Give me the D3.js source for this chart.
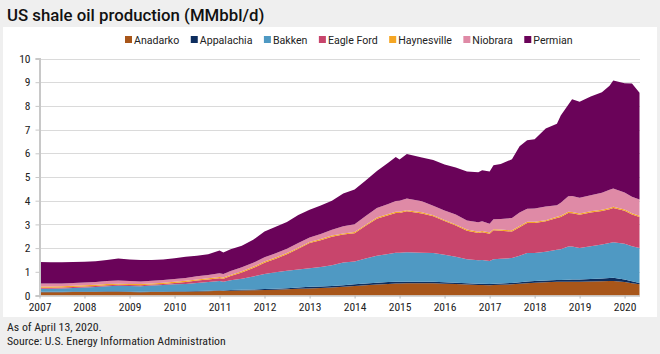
<!DOCTYPE html>
<html>
<head>
<meta charset="utf-8">
<script src="https://cdn.jsdelivr.net/npm/d3@7"></script>
<style>
  body { margin: 0; background: #efefef; }
  svg { display: block; }
  .tick text { font-family: "Liberation Sans Narrow", "Roboto Condensed", "Liberation Sans", sans-serif; font-size: 11.5px; fill: #222; }
</style>
</head>
<body>
<svg id="chart" width="660" height="354"></svg>
<script>
'use strict';

// monthly sample points
const months = [
  "2007-01","2007-04","2007-07","2007-10",
  "2008-01","2008-04","2008-07","2008-10",
  "2009-01","2009-04","2009-07","2009-10",
  "2010-01","2010-04","2010-07","2010-10",
  "2011-01","2011-02","2011-04","2011-07","2011-10",
  "2012-01","2012-04","2012-07","2012-10",
  "2013-01","2013-04","2013-07","2013-10",
  "2014-01","2014-04","2014-07","2014-10","2014-12",
  "2015-01","2015-03","2015-07","2015-10",
  "2016-01","2016-04","2016-07","2016-10","2016-11",
  "2017-01","2017-02","2017-04","2017-07","2017-09","2017-11",
  "2018-01","2018-04","2018-07","2018-08","2018-10","2018-11",
  "2019-01","2019-04","2019-07","2019-09","2019-10",
  "2020-01","2020-03","2020-05"
];

const anadarko = [
  0.14,0.14,0.14,0.15, 0.15,0.15,0.16,0.16, 0.15,0.14,0.15,0.15, 0.16,0.16,0.17,0.18,
  0.20,0.19,0.20,0.21,0.22, 0.23,0.24,0.26,0.28, 0.30,0.32,0.34,0.37,
  0.40,0.43,0.46,0.49,0.51, 0.51,0.52,0.52,0.52, 0.50,0.48,0.46,0.44,0.44,
  0.43,0.44,0.45,0.47,0.50,0.52, 0.54,0.56,0.58,0.58,0.58,0.58,
  0.58,0.59,0.60,0.61,0.61, 0.57,0.52,0.47
];
const appalachia = [
  0.02,0.02,0.02,0.02, 0.02,0.02,0.02,0.02, 0.02,0.02,0.02,0.02, 0.02,0.02,0.02,0.02,
  0.02,0.02,0.03,0.03,0.03, 0.04,0.04,0.05,0.06, 0.07,0.06,0.06,0.06,
  0.07,0.08,0.08,0.08,0.07, 0.07,0.06,0.06,0.06, 0.06,0.06,0.06,0.06,0.06,
  0.06,0.06,0.06,0.06,0.06,0.07, 0.07,0.07,0.07,0.07,0.08,0.09,
  0.10,0.11,0.12,0.13,0.14, 0.11,0.08,0.06
];
const bakken = [
  0.13,0.13,0.14,0.15, 0.17,0.19,0.21,0.23, 0.23,0.23,0.25,0.27, 0.29,0.31,0.34,0.37,
  0.39,0.37,0.41,0.47,0.55, 0.64,0.70,0.73,0.76, 0.78,0.82,0.88,0.96,
  0.96,1.05,1.14,1.18,1.22, 1.22,1.25,1.22,1.21, 1.16,1.09,1.01,0.99,1.00,
  0.97,1.03,1.04,1.05,1.12,1.20, 1.18,1.22,1.28,1.30,1.41,1.40,
  1.32,1.38,1.43,1.47,1.50, 1.50,1.48,1.47
];
const eagleFord = [
  0.04,0.04,0.04,0.04, 0.04,0.04,0.04,0.04, 0.04,0.04,0.04,0.05, 0.06,0.08,0.10,0.11,
  0.12,0.13,0.18,0.26,0.36, 0.47,0.57,0.70,0.87, 1.06,1.13,1.20,1.18,
  1.20,1.38,1.56,1.64,1.68, 1.68,1.72,1.66,1.55, 1.42,1.32,1.20,1.15,1.17,
  1.15,1.22,1.18,1.12,1.20,1.27, 1.27,1.28,1.34,1.36,1.41,1.40,
  1.41,1.42,1.42,1.43,1.44, 1.40,1.34,1.31
];
const haynesville = [
  0.05,0.05,0.05,0.05, 0.05,0.05,0.05,0.05, 0.05,0.05,0.05,0.05, 0.05,0.05,0.05,0.05,
  0.05,0.05,0.05,0.05,0.05, 0.05,0.05,0.05,0.05, 0.05,0.05,0.05,0.05,
  0.05,0.05,0.05,0.05,0.05, 0.05,0.05,0.05,0.05, 0.05,0.05,0.05,0.05,0.05,
  0.05,0.05,0.05,0.05,0.05,0.05, 0.05,0.05,0.05,0.05,0.05,0.05,
  0.05,0.05,0.05,0.05,0.05, 0.05,0.05,0.05
];
const niobrara = [
  0.13,0.13,0.12,0.12, 0.12,0.12,0.13,0.13, 0.12,0.11,0.11,0.11, 0.12,0.12,0.13,0.14,
  0.16,0.15,0.16,0.17,0.17, 0.18,0.18,0.18,0.19, 0.19,0.21,0.24,0.30,
  0.33,0.36,0.40,0.42,0.46, 0.47,0.49,0.47,0.40, 0.40,0.42,0.38,0.40,0.41,
  0.37,0.42,0.45,0.52,0.57,0.55, 0.56,0.58,0.49,0.55,0.66,0.68,
  0.66,0.68,0.72,0.77,0.77, 0.72,0.70,0.69
];
const permian = [
  0.90,0.89,0.89,0.88, 0.87,0.88,0.89,0.93, 0.91,0.91,0.88,0.87, 0.87,0.89,0.87,0.87,
  0.96,0.90,0.92,0.91,0.97, 1.09,1.12,1.13,1.19, 1.17,1.21,1.23,1.38,
  1.46,1.50,1.56,1.74,1.85, 1.74,1.88,1.84,1.93, 1.94,1.98,2.07,2.11,2.15,
  2.20,2.28,2.32,2.48,2.80,2.89, 2.92,3.29,3.44,3.69,3.86,4.08,
  4.05,4.17,4.24,4.39,4.56, 4.61,4.78,4.50
];

const basins = ["Anadarko", "Appalachia", "Bakken", "Eagle Ford", "Haynesville", "Niobrara", "Permian"];
const colors = ["#a8561a", "#0d2d5e", "#4f99c3", "#c8456c", "#f5a623", "#df8aa6", "#6a0359"];
const yTicks = [0, 1, 2, 3, 4, 5, 6, 7, 8, 9, 10];
const yearTicks = d3.range(2007, 2021);

const series = [anadarko, appalachia, bakken, eagleFord, haynesville, niobrara, permian];
const parseMonth = d3.timeParse("%Y-%m");

const data = months.map((m, i) => {
  let row = { date: parseMonth(m) };
  basins.forEach((b, j) => { row[b] = series[j][i]; });
  return row;
});

const svg = d3.select("#chart");

// white panel
svg.append("rect")
  .attr("x", 3).attr("y", 27)
  .attr("width", 654).attr("height", 290)
  .attr("fill", "#fff");

// title
svg.append("text")
  .attr("x", 7).attr("y", 21)
  .style("font-family", "Roboto, sans-serif")
  .style("font-size", "16.8px")
  .style("font-weight", 500)
  .style("fill", "#111")
  .text("US shale oil production (MMbbl/d)");

const x = d3.scaleTime()
  .domain([new Date(2007, 0, 1), new Date(2020, 4, 1)])
  .range([39.5, 639.5]);
const y = d3.scaleLinear().domain([0, 10]).range([295.5, 58.5]);

// gridlines
svg.append("g")
  .selectAll("line")
  .data(yTicks.filter(d => d > 0))
  .enter().append("line")
  .attr("x1", 39.5).attr("x2", 640)
  .attr("y1", d => Math.round(y(d)) + 0.5).attr("y2", d => Math.round(y(d)) + 0.5)
  .attr("stroke", "#dadada")
  .attr("stroke-width", 1.2);

// stacked areas
const stacked = d3.stack().keys(basins)(data);
const area = d3.area()
  .x(d => x(d.data.date))
  .y0(d => y(d[0]))
  .y1(d => y(d[1]));

svg.append("g")
  .selectAll("path")
  .data(stacked)
  .enter().append("path")
  .attr("d", area)
  .attr("fill", (d, i) => colors[i]);

// y axis
const yAxis = d3.axisLeft(y).tickValues(yTicks).tickSize(4).tickPadding(5);
const gy = svg.append("g")
  .attr("transform", "translate(39.5,0)")
  .call(yAxis);
gy.select(".domain").attr("stroke", "#c8c8c8").attr("stroke-width", 2);
gy.selectAll(".tick line").attr("stroke", "#c8c8c8");

// x axis
const xAxis = d3.axisBottom(x)
  .tickValues(yearTicks.map(yr => new Date(yr, 0, 1)))
  .tickFormat(d3.timeFormat("%Y"))
  .tickSize(3).tickPadding(4).tickSizeOuter(0);
const gx = svg.append("g")
  .attr("transform", "translate(0,295.5)")
  .call(xAxis);
gx.select(".domain").attr("stroke", "#c8c8c8").attr("stroke-width", 1.5);
gx.selectAll(".tick line").attr("stroke", "#bbb");

// legend
const legend = svg.append("g").attr("transform", "translate(125,36)");
let lx = 0;
basins.forEach((b, i) => {
  let item = legend.append("g").attr("transform", "translate(" + lx + ",0)");
  item.append("rect")
    .attr("width", 7).attr("height", 7)
    .attr("fill", colors[i]);
  let t = item.append("text")
    .attr("x", 9).attr("y", 7.5)
    .style("font-family", "Roboto, sans-serif")
    .style("font-size", "10.6px")
    .style("fill", "#222")
    .text(b);
  lx += 9 + t.node().getComputedTextLength() + 11.5;
});

// footer
const foot = svg.append("text")
  .style("font-family", "\"Liberation Sans Narrow\", \"Roboto Condensed\", sans-serif")
  .style("font-size", "11.8px")
  .style("fill", "#222");
foot.append("tspan").attr("x", 7).attr("y", 331).text("As of April 13, 2020.");
foot.append("tspan").attr("x", 7).attr("y", 345).text("Source: U.S. Energy Information Administration");
</script>
</body>
</html>
